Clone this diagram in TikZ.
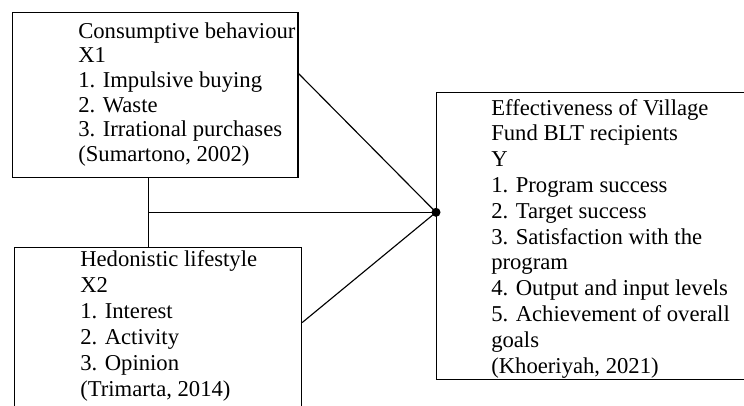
\documentclass[tikz,border=0pt]{standalone}
\usepackage{fontspec}
\setmainfont{Liberation Serif}
\usetikzlibrary{calc}
\tikzset{
  boxnode/.style={draw, line width=0.9pt, inner sep=0pt, anchor=north west},
  txt/.style={anchor=base west, inner sep=0pt, font=\fontsize{17pt}{18pt}\selectfont},
  conn/.style={line width=0.85pt}
}
\begin{document}
\begin{tikzpicture}[x=0.75pt, y=-0.75pt]
\useasboundingbox (0,0) rectangle (744,405);
\clip (0,0) rectangle (744,405);
% boxes
\node[boxnode, minimum width=214.1pt, minimum height=123.75pt] (b1) at (12,12) {};
\node[boxnode, minimum width=215.25pt, minimum height=137.5pt] (b2) at (14,246.7) {};
\node[boxnode, minimum width=243pt, minimum height=215.5pt] (b3) at (436,91.7) {};
% texts
\node[txt] (t1) at (78,38.3) {\vtop{\baselineskip=18.45pt
 \hbox{Consumptive behaviour}\hbox{X1}\hbox{1. Impulsive buying}\hbox{2. Waste}\hbox{3. Irrational purchases}\hbox{(Sumartono, 2002)}}};
\node[txt] (t2) at (80,266) {\vtop{\baselineskip=19.5pt
 \hbox{Hedonistic lifestyle}\hbox{X2}\hbox{1. Interest}\hbox{2. Activity}\hbox{3. Opinion}\hbox{(Trimarta, 2014)}}};
\node[txt] (t3) at (491,115) {\vtop{\baselineskip=19.35pt
 \hbox{Effectiveness of Village}\hbox{Fund BLT recipients}\hbox{Y}\hbox{1. Program success}\hbox{2. Target success}\hbox{3. Satisfaction with the}\hbox{program}\hbox{4. Output and input levels}\hbox{5. Achievement of overall}\hbox{goals}\hbox{(Khoeriyah, 2021)}}};
% connection points
\coordinate (hub) at ($(b3.north west)!0.418!(b3.south west)$);
\coordinate (p1) at ($(b1.north east)!0.371!(b1.south east)$);
\coordinate (p2) at ($(b2.north east)!0.411!(b2.south east)$);
\coordinate (j1) at ($(b1.south west)!0.477!(b1.south east)$);
% connectors
\draw[conn] (p1) -- (hub);
\draw[conn] (p2) -- (hub);
\draw[conn] (j1) -- (j1 |- b2.north);
\draw[conn] (j1 |- hub) -- (hub);
\fill (hub) circle (4.5);
\end{tikzpicture}
\end{document}
